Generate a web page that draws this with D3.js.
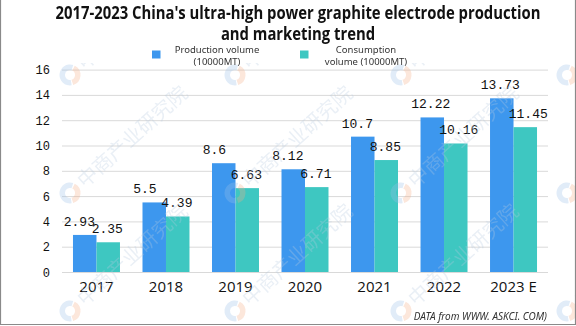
<!DOCTYPE html>
<html>
<head>
<meta charset="utf-8">
<script src="https://cdn.jsdelivr.net/npm/d3@7"></script>
<style>
  html, body { margin: 0; padding: 0; background: #fff; }
  svg { display: block; }
</style>
</head>
<body>
<svg id="chart"></svg>
<script>
// chart values
var years = ["2017", "2018", "2019", "2020", "2021", "2022", "2023 E"];
var production = [2.93, 5.5, 8.6, 8.12, 10.7, 12.22, 13.73];
var consumption = [2.35, 4.39, 6.63, 6.71, 8.85, 10.16, 11.45];
var yTicks = [0, 2, 4, 6, 8, 10, 12, 14, 16];
var seriesKeys = ["production", "consumption"];
var legendLines = [["Production volume", "(10000MT)"], ["Consumption", "volume (10000MT)"]];
var titleLines = ["2017-2023 China's ultra-high power graphite electrode production", "and marketing trend"];

var colors = { production: "#3d97ee", consumption: "#3ec7c1" };

function drawChart(el) {
  var W = 576, H = 326;
  var plot = { left: 62, right: 548, top: 69.6, bottom: 272 };

  var svg = d3.select(el).attr("width", W).attr("height", H);

  svg.append("rect").attr("width", W).attr("height", H).attr("fill", "#fff");

  var rows = years.map(function(y, i) {
    return { year: y, production: production[i], consumption: consumption[i] };
  });

  var x = d3.scaleBand().domain(years)
      .range([plot.left, plot.right])
      .paddingInner(0.324).paddingOuter(0.158);
  var x1 = d3.scaleBand().domain(seriesKeys).range([0, x.bandwidth()]);
  var y = d3.scaleLinear().domain([0, 16]).range([plot.bottom, plot.top]);

  // gridlines
  svg.append("g")
      .attr("transform", "translate(" + plot.left + ",0)")
      .call(d3.axisLeft(y).tickValues(yTicks).tickSize(-(plot.right - plot.left)).tickFormat(""))
      .call(function(g) { g.select(".domain").remove(); })
      .selectAll("line").attr("stroke", "#d9d9d9").attr("stroke-width", 1);

  // y labels
  svg.append("g")
      .selectAll("text").data(yTicks).enter().append("text")
      .attr("x", 50)
      .attr("y", function(d) { return y(d) + 4.5; })
      .attr("text-anchor", "end")
      .style("font-family", "'Liberation Mono', monospace")
      .style("font-size", "12px")
      .attr("fill", "#111")
      .text(function(d) { return d; });

  // bars
  var groups = svg.append("g").selectAll("g").data(rows).enter().append("g")
      .attr("transform", function(d) { return "translate(" + x(d.year) + ",0)"; });

  groups.selectAll("rect")
      .data(function(d) { return seriesKeys.map(function(k) { return { key: k, value: d[k] }; }); })
      .enter().append("rect")
      .attr("x", function(d) { return x1(d.key); })
      .attr("width", x1.bandwidth())
      .attr("y", function(d) { return y(d.value); })
      .attr("height", function(d) { return y(0) - y(d.value); })
      .attr("fill", function(d) { return colors[d.key]; });

  // value labels
  groups.selectAll("text.val")
      .data(function(d) { return seriesKeys.map(function(k) { return { key: k, value: d[k] }; }); })
      .enter().append("text")
      .attr("class", "val")
      .attr("x", function(d) { return x1(d.key) + x1.bandwidth() / 2 + (d.key === "production" ? -21 : -16.5); })
      .attr("y", function(d) { return y(d.value) - 9; })
      .style("font-family", "'Liberation Mono', monospace")
      .style("font-size", "13px")
      .attr("fill", "#111")
      .text(function(d) { return String(d.value); });

  // x labels
  svg.append("g")
      .selectAll("text").data(years).enter().append("text")
      .attr("x", function(d) { return x(d) + x.bandwidth() / 2; })
      .attr("y", 292)
      .attr("text-anchor", "middle")
      .style("font-family", "'Open Sans', sans-serif")
      .style("font-size", "15px")
      .attr("fill", "#111")
      .text(function(d) { return d; });

  // watermark, kept below the header
  svg.append("clipPath").attr("id", "wmclip")
    .append("rect").attr("x", 0).attr("y", 63).attr("width", W).attr("height", H - 63);
  var wm = svg.append("g")
      .attr("clip-path", "url(#wmclip)")
      .attr("opacity", 0.3)
      .style("pointer-events", "none");
  var arcRing = d3.arc().innerRadius(5).outerRadius(10.5);
  [70, 235, 401, 567].forEach(function(cx) {
    [75, 193, 311].forEach(function(cy) {
      var m = wm.append("g").attr("transform", "translate(" + cx + "," + cy + ")");
      m.append("path")
          .attr("d", arcRing({ startAngle: Math.PI * 0.95, endAngle: Math.PI * 2.1 }))
          .attr("fill", "#9cc0e8");
      m.append("path")
          .attr("d", arcRing({ startAngle: Math.PI * 0.15, endAngle: Math.PI * 0.9 }))
          .attr("fill", "#f3ad88");
      m.append("text")
          .attr("transform", "rotate(-42) translate(14,7)")
          .style("font-family", "'Noto Sans CJK SC', sans-serif")
          .style("font-size", "20px")
          .attr("fill", "#b9cbe0")
          .text("中商产业研究院");
    });
  });

  // title, squeezed to the header width
  var title = svg.append("g").selectAll("text").data(titleLines).enter().append("text")
      .attr("x", 298)
      .attr("y", function(d, i) { return 19 + i * 21; })
      .attr("text-anchor", "middle")
      .style("font-family", "'Open Sans', sans-serif")
      .style("font-size", "17px")
      .style("font-weight", "bold")
      .attr("fill", "#111")
      .text(function(d) { return d; });
  var squeeze = 485 / title.nodes()[0].getComputedTextLength();
  title.each(function() {
    d3.select(this)
        .attr("textLength", this.getComputedTextLength() * squeeze)
        .attr("lengthAdjust", "spacingAndGlyphs");
  });

  // legend
  var legendPos = [{ sq: 152, cx: 217 }, { sq: 300, cx: 366 }];
  seriesKeys.forEach(function(k, i) {
    var g = svg.append("g");
    g.append("rect")
        .attr("x", legendPos[i].sq).attr("y", 50.5)
        .attr("width", 8.5).attr("height", 8)
        .attr("fill", colors[k]);
    g.selectAll("text").data(legendLines[i]).enter().append("text")
        .attr("x", legendPos[i].cx)
        .attr("y", function(d, j) { return 52.5 + j * 12; })
        .attr("text-anchor", "middle")
        .style("font-family", "'Noto Sans', sans-serif")
        .style("font-size", "9.5px")
        .attr("fill", "#333")
        .text(function(d) { return d; });
  });

  // source note
  svg.append("text")
      .attr("x", 547).attr("y", 320)
      .attr("text-anchor", "end")
      .style("font-family", "'Noto Sans', sans-serif")
      .style("font-size", "10px")
      .style("font-style", "italic")
      .attr("fill", "#333")
      .text("DATA from WWW. ASKCI. COM)");

  // frame
  svg.append("path")
      .attr("d", "M0.5,0 V324.5 H575.5 V0")
      .attr("fill", "none")
      .attr("stroke", "#8a8a8a")
      .attr("stroke-width", 1.2);
}

drawChart(document.querySelector("#chart"));
</script>
</body>
</html>
